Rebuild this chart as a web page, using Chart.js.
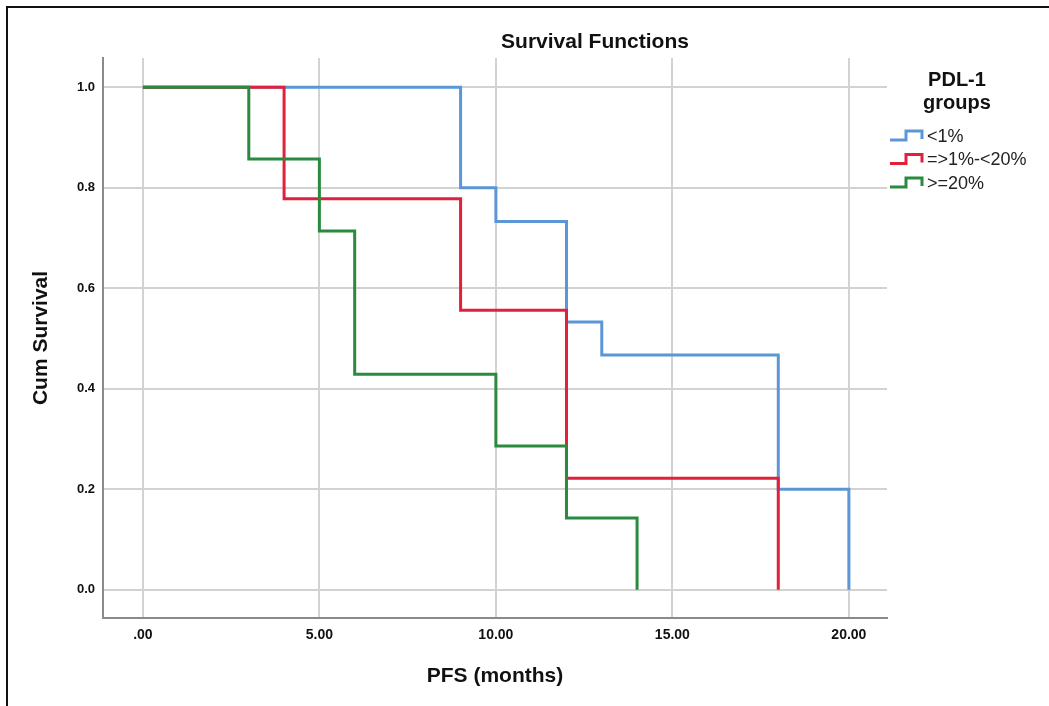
<!DOCTYPE html>
<html>
<head>
<meta charset="utf-8">
<title>Survival Functions</title>
<script src="https://cdn.jsdelivr.net/npm/chart.js@4/dist/chart.umd.min.js"></script>
<style>
  html, body { margin: 0; padding: 0; background: #fff; }
  #wrap { position: relative; width: 1049px; height: 706px; }
</style>
</head>
<body>
<div id="wrap"><canvas id="km" width="1049" height="706"></canvas></div>
<script>
// Kaplan-Meier step points per PD-L1 group (time in months, cumulative survival)
const groupNames = ['<1%', '=>1%-<20%', '>=20%'];
const lowTimes = [0, 9, 10, 12, 13, 18, 20];
const lowSurv = [1.0, 0.800, 0.733, 0.533, 0.467, 0.200, 0.0];
const midTimes = [0, 4, 9, 12, 18];
const midSurv = [1.0, 0.778, 0.556, 0.222, 0.0];
const highTimes = [0, 3, 5, 6, 10, 12, 14];
const highSurv = [1.0, 0.857, 0.714, 0.429, 0.286, 0.143, 0.0];

const xTicks = [0, 5, 10, 15, 20];
const xTickLabels = ['.00', '5.00', '10.00', '15.00', '20.00'];
const yTicks = [0, 0.2, 0.4, 0.6, 0.8, 1.0];
const yTickLabels = ['0.0', '0.2', '0.4', '0.6', '0.8', '1.0'];

const colors = ['#5b96d6', '#e1203c', '#2a8a3e'];
const FONT = "'Liberation Sans', Arial, sans-serif";

function toPoints(times, surv) {
  return times.map((t, i) => ({ x: t, y: surv[i] }));
}

// frame, title and step-style legend drawn on top of the chart
const decorations = {
  id: 'decorations',
  afterDraw(chart) {
    const ctx = chart.ctx;
    ctx.save();
    ctx.strokeStyle = '#111';
    ctx.lineWidth = 2;
    ctx.beginPath();
    ctx.moveTo(7, 706);
    ctx.lineTo(7, 7);
    ctx.lineTo(1049, 7);
    ctx.stroke();

    ctx.fillStyle = '#111';
    ctx.textAlign = 'center';
    ctx.textBaseline = 'middle';
    ctx.font = 'bold 21px ' + FONT;
    ctx.fillText('Survival Functions', 595, 42);

    ctx.font = 'bold 20px ' + FONT;
    ctx.fillText('PDL-1', 957, 80);
    ctx.fillText('groups', 957, 103);

    ctx.font = '18px ' + FONT;
    ctx.textAlign = 'left';
    groupNames.forEach((name, i) => {
      const y = 137 + i * 23.5;
      ctx.strokeStyle = colors[i];
      ctx.lineWidth = 3;
      ctx.beginPath();
      ctx.moveTo(890, y + 3);
      ctx.lineTo(906, y + 3);
      ctx.lineTo(906, y - 6);
      ctx.lineTo(922, y - 6);
      ctx.lineTo(922, y + 2);
      ctx.stroke();
      ctx.fillStyle = '#222';
      ctx.fillText(name, 927, y);
    });
    ctx.restore();
  }
};

const series = [
  { label: groupNames[0], data: toPoints(lowTimes, lowSurv), color: colors[0], order: 2 },
  { label: groupNames[1], data: toPoints(midTimes, midSurv), color: colors[1], order: 1 },
  { label: groupNames[2], data: toPoints(highTimes, highSurv), color: colors[2], order: 0 }
];

new Chart(document.getElementById('km').getContext('2d'), {
  type: 'line',
  data: {
    datasets: series.map(s => ({
      label: s.label,
      data: s.data,
      borderColor: s.color,
      backgroundColor: s.color,
      borderWidth: 3,
      stepped: 'before',
      pointRadius: 0,
      fill: false,
      order: s.order
    }))
  },
  options: {
    responsive: false,
    animation: false,
    layout: { padding: { left: 8, top: 58, right: 162, bottom: 0 } },
    plugins: {
      legend: { display: false },
      title: { display: false },
      tooltip: { enabled: false }
    },
    scales: {
      x: {
        type: 'linear',
        min: -1.13,
        max: 21.08,
        afterFit(scale) { scale.height = 88; },
        afterBuildTicks(scale) { scale.ticks = xTicks.map(v => ({ value: v })); },
        grid: { color: '#d2d2d2', lineWidth: 2, drawTicks: false },
        border: { color: '#8a8a8a', width: 2 },
        ticks: {
          padding: 9,
          color: '#111',
          font: { family: FONT, size: 14, weight: 'bold' },
          maxRotation: 0,
          callback: (v) => xTickLabels[xTicks.indexOf(v)]
        },
        title: {
          display: true,
          text: 'PFS (months)',
          color: '#111',
          font: { family: FONT, size: 21, weight: 'bold' },
          padding: { top: 0, bottom: 17 }
        }
      },
      y: {
        type: 'linear',
        min: -0.056,
        max: 1.058,
        afterFit(scale) { scale.width = 95; },
        afterBuildTicks(scale) { scale.ticks = yTicks.map(v => ({ value: v })); },
        grid: { color: '#d2d2d2', lineWidth: 2, drawTicks: false },
        border: { color: '#8a8a8a', width: 2 },
        ticks: {
          padding: 8,
          color: '#111',
          font: { family: FONT, size: 13, weight: 'bold' },
          callback: (v) => yTickLabels[yTicks.indexOf(v)]
        },
        title: {
          display: true,
          text: 'Cum Survival',
          color: '#111',
          font: { family: FONT, size: 21, weight: 'bold' },
          padding: { top: 21, bottom: 0 }
        }
      }
    }
  },
  plugins: [decorations]
});
</script>
</body>
</html>
